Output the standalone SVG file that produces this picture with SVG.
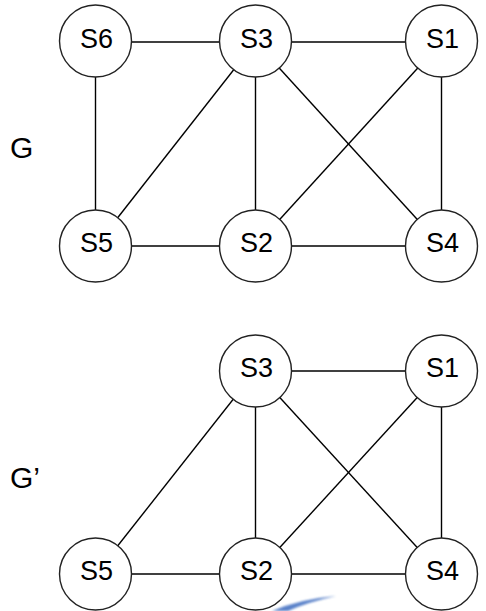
<svg xmlns="http://www.w3.org/2000/svg" width="486" height="611" viewBox="0 0 486 611">
  <style>
    .edge { stroke: #000; stroke-width: 1.4; fill: none; }
    .node circle { fill: #fff; stroke: #222; stroke-width: 1.4; }
    .node text { font-family: "Liberation Sans", Arial, sans-serif; font-size: 27px; text-anchor: middle; fill: #000; }
    .title { font-family: "Liberation Sans", Arial, sans-serif; font-size: 30px; fill: #000; }
  </style>
  <defs>
    <filter id="soft" x="-20%" y="-100%" width="140%" height="300%">
      <feGaussianBlur stdDeviation="1"/>
    </filter>
  </defs>
  <rect width="486" height="611" fill="#fff"/>

  <!-- graph labels -->
  <text class="title" x="10" y="158">G</text>
  <text class="title" x="10" y="488">G’</text>

  <!-- connectors for G -->
  <g id="edges-G">
    <line class="edge" x1="95.5" y1="42" x2="255.5" y2="42"/>
    <line class="edge" x1="255.5" y1="42" x2="441.5" y2="42"/>
    <line class="edge" x1="95.5" y1="42" x2="95.5" y2="246"/>
    <line class="edge" x1="255.5" y1="42" x2="95.5" y2="246"/>
    <line class="edge" x1="255.5" y1="42" x2="255.5" y2="246"/>
    <line class="edge" x1="255.5" y1="42" x2="441.5" y2="246"/>
    <line class="edge" x1="441.5" y1="42" x2="255.5" y2="246"/>
    <line class="edge" x1="441.5" y1="42" x2="441.5" y2="246"/>
    <line class="edge" x1="95.5" y1="246" x2="255.5" y2="246"/>
    <line class="edge" x1="255.5" y1="246" x2="441.5" y2="246"/>
  </g>

  <!-- connectors for G' -->
  <g id="edges-G2">
    <line class="edge" x1="255.5" y1="371" x2="441.5" y2="371"/>
    <line class="edge" x1="255.5" y1="371" x2="95.5" y2="574"/>
    <line class="edge" x1="255.5" y1="371" x2="255.5" y2="574"/>
    <line class="edge" x1="255.5" y1="371" x2="441.5" y2="574"/>
    <line class="edge" x1="441.5" y1="371" x2="255.5" y2="574"/>
    <line class="edge" x1="441.5" y1="371" x2="441.5" y2="574"/>
    <line class="edge" x1="95.5" y1="574" x2="255.5" y2="574"/>
    <line class="edge" x1="255.5" y1="574" x2="441.5" y2="574"/>
  </g>

  <!-- nodes of G -->
  <g id="g-S6" class="node"><circle cx="95.5" cy="41" r="36"/><text x="96.5" y="48">S6</text></g>
  <g id="g-S3" class="node"><circle cx="255.5" cy="41" r="36"/><text x="256.5" y="48">S3</text></g>
  <g id="g-S1" class="node"><circle cx="441.5" cy="41" r="36"/><text x="442.5" y="48">S1</text></g>
  <g id="g-S5" class="node"><circle cx="95.5" cy="246" r="36"/><text x="96.5" y="252">S5</text></g>
  <g id="g-S2" class="node"><circle cx="255.5" cy="246" r="36"/><text x="256.5" y="252">S2</text></g>
  <g id="g-S4" class="node"><circle cx="441.5" cy="246" r="36"/><text x="442.5" y="252">S4</text></g>

  <!-- nodes of G' -->
  <g id="g2-S3" class="node"><circle cx="255.5" cy="371" r="36"/><text x="256.5" y="377">S3</text></g>
  <g id="g2-S1" class="node"><circle cx="441.5" cy="371" r="36"/><text x="442.5" y="377">S1</text></g>
  <g id="g2-S5" class="node"><circle cx="95.5" cy="574" r="36"/><text x="96.5" y="580">S5</text></g>
  <g id="g2-S2" class="node"><circle cx="255.5" cy="574" r="36"/><text x="256.5" y="580">S2</text></g>
  <g id="g2-S4" class="node"><circle cx="441.5" cy="574" r="36"/><text x="442.5" y="580">S4</text></g>

  <!-- faint blue brush stroke along the bottom edge -->
  <path d="M272 611 Q300 599 336 596 Q308 602 288 611 Z" fill="#3d6cc0" opacity="0.85" filter="url(#soft)"/>
</svg>
